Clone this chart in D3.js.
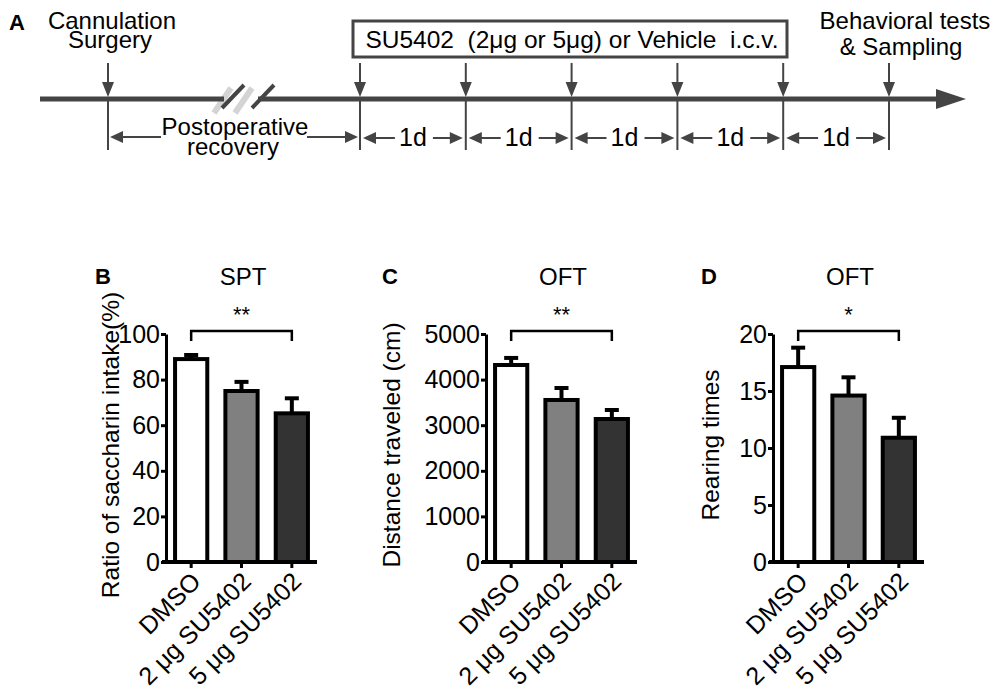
<!DOCTYPE html>
<html>
<head>
<meta charset="utf-8">
<script src="https://cdn.jsdelivr.net/npm/d3@7"></script>
<style>
  body { margin: 0; background: #fff; }
  svg { display: block; font-family: "Liberation Sans", Arial, sans-serif; }
</style>
</head>
<body>
<svg id="fig" width="1000" height="695"></svg>
<script>
// Bar data (mean and SEM)
const groups = ["DMSO", "2 μg SU5402", "5 μg SU5402"];
const barFills = ["#ffffff", "#808080", "#333333"];
const sptMean = [89, 75, 65.2];
const sptSem = [1.8, 4, 6.6];
const distMean = [4320, 3553, 3136];
const distSem = [155, 263, 197];
const rearMean = [17.1, 14.6, 10.9];
const rearSem = [1.7, 1.6, 1.75];

const sptTicks = [0, 20, 40, 60, 80, 100];
const distTicks = [0, 1000, 2000, 3000, 4000, 5000];
const rearTicks = [0, 5, 10, 15, 20];

// Timeline (panel A)
const injectionDays = [0, 1, 2, 3, 4];
const testDay = 5;

const svg = d3.select("#fig");
const ink = "#444";
const fs = 24;

// ---------- Panel A: timeline ----------
const dayX = d3.scaleLinear().domain([0, 5]).range([360, 889]);
const surgeryX = 108;
const lineY = 99;

svg.append("text").attr("x", 9).attr("y", 30)
  .attr("font-size", 22).attr("font-weight", "bold").text("A");

// light "shadow" of the break marks
[[214, 113, 231, 88], [235, 113, 252, 88]].forEach(s => {
  svg.append("line").attr("x1", s[0]).attr("y1", s[1]).attr("x2", s[2]).attr("y2", s[3])
    .attr("stroke", "#d4d4d4").attr("stroke-width", 6);
});

svg.append("line").attr("x1", 40).attr("x2", 224).attr("y1", lineY).attr("y2", lineY)
  .attr("stroke", ink).attr("stroke-width", 5);
svg.append("line").attr("x1", 258).attr("x2", 940).attr("y1", lineY).attr("y2", lineY)
  .attr("stroke", ink).attr("stroke-width", 5);
svg.append("path").attr("d", `M936,${lineY - 10}L966,${lineY}L936,${lineY + 10}Z`).attr("fill", ink);

[[222, 108, 244, 85], [252, 108, 274, 85]].forEach(s => {
  svg.append("line").attr("x1", s[0]).attr("y1", s[1]).attr("x2", s[2]).attr("y2", s[3])
    .attr("stroke", ink).attr("stroke-width", 4);
});

const markX = [surgeryX].concat(injectionDays.map(dayX), [dayX(testDay)]);

markX.forEach(x => {
  // down arrow
  svg.append("line").attr("x1", x).attr("x2", x).attr("y1", 63).attr("y2", 86)
    .attr("stroke", ink).attr("stroke-width", 2);
  svg.append("path").attr("d", `M${x - 6},82L${x + 6},82L${x},97Z`).attr("fill", ink);
  // drop line
  svg.append("line").attr("x1", x).attr("x2", x).attr("y1", lineY).attr("y2", 150)
    .attr("stroke", ink).attr("stroke-width", 2);
});

function hArrow(x1, x2, y) {
  // arrow from x1 to x2, head at x2
  const dir = x2 > x1 ? 1 : -1;
  svg.append("line").attr("x1", x1).attr("x2", x2 - dir * 8).attr("y1", y).attr("y2", y)
    .attr("stroke", ink).attr("stroke-width", 2);
  svg.append("path").attr("d", `M${x2},${y}L${x2 - dir * 13},${y - 6}L${x2 - dir * 13},${y + 6}Z`)
    .attr("fill", ink);
}

// postoperative recovery span
hArrow(161, surgeryX + 2, 137);
hArrow(307, 358, 137);
svg.append("text").attr("x", 235).attr("y", 135).attr("text-anchor", "middle")
  .attr("font-size", fs).text("Postoperative");
svg.append("text").attr("x", 233).attr("y", 155).attr("text-anchor", "middle")
  .attr("font-size", fs).text("recovery");

// 1d spans
d3.range(0, 5).forEach(d => {
  const a = dayX(d), b = dayX(d + 1), c = (a + b) / 2;
  hArrow(c - 18, a + 3, 138);
  hArrow(c + 20, b - 3, 138);
  svg.append("text").attr("x", c).attr("y", 146).attr("text-anchor", "middle")
    .attr("font-size", 25).text("1d");
});

svg.append("text").attr("x", 112).attr("y", 29).attr("text-anchor", "middle")
  .attr("font-size", fs).text("Cannulation");
svg.append("text").attr("x", 110).attr("y", 48).attr("text-anchor", "middle")
  .attr("font-size", fs).text("Surgery");

svg.append("rect").attr("x", 353).attr("y", 21).attr("width", 434).attr("height", 36)
  .attr("fill", "none").attr("stroke", ink).attr("stroke-width", 3);
svg.append("text").attr("x", 572).attr("y", 48).attr("text-anchor", "middle")
  .attr("font-size", 24.5).style("white-space", "pre")
  .text("SU5402  (2μg or 5μg) or Vehicle  i.c.v.");

svg.append("text").attr("x", 905).attr("y", 29).attr("text-anchor", "middle")
  .attr("font-size", fs).text("Behavioral tests");
svg.append("text").attr("x", 901).attr("y", 55).attr("text-anchor", "middle")
  .attr("font-size", fs).text("& Sampling");

// ---------- Panels B, C, D: bar charts ----------
const panels = [
  { letter: "B", title: "SPT", ylabel: "Ratio of saccharin intake(%)", mean: sptMean, sem: sptSem,
    ticks: sptTicks, stars: "**", x0: 166, labelX: 119, letterX: 95 },
  { letter: "C", title: "OFT", ylabel: "Distance traveled (cm)", mean: distMean, sem: distSem,
    ticks: distTicks, stars: "**", x0: 486, labelX: 400, letterX: 382 },
  { letter: "D", title: "OFT", ylabel: "Rearing times", mean: rearMean, sem: rearSem,
    ticks: rearTicks, stars: "*", x0: 773, labelX: 719, letterX: 701 }
];

const y0 = 562, yTop = 334;

panels.forEach(p => {
  const g = svg.append("g");
  const y = d3.scaleLinear().domain([0, d3.max(p.ticks)]).range([y0, yTop]);
  const x = d3.scaleBand().domain(groups).range([p.x0, p.x0 + 151])
    .paddingInner(0.36).paddingOuter(0.18);

  g.append("text").attr("x", p.letterX)
    .attr("y", 284).attr("font-size", 22).attr("font-weight", "bold").text(p.letter);
  g.append("text").attr("x", p.x0 + 77).attr("y", 285).attr("text-anchor", "middle")
    .attr("font-size", 24).text(p.title);

  // y axis
  const ya = g.append("g").attr("transform", `translate(${p.x0},0)`)
    .call(d3.axisLeft(y).tickValues(p.ticks).tickFormat(d3.format("d"))
      .tickSize(5).tickSizeOuter(0).tickPadding(1));
  ya.select(".domain").attr("stroke", "#000").attr("stroke-width", 3);
  ya.selectAll(".tick line").attr("stroke", "#000").attr("stroke-width", 3);
  ya.selectAll(".tick text").attr("font-size", 25).attr("fill", "#000")
    .attr("font-family", "Liberation Sans, Arial, sans-serif");

  g.append("text")
    .attr("transform", `translate(${p.labelX},${445}) rotate(-90)`)
    .attr("text-anchor", "middle").attr("font-size", 24.5).text(p.ylabel);

  // error bars
  groups.forEach((k, i) => {
    const cx = x(k) + x.bandwidth() / 2;
    g.append("line").attr("x1", cx).attr("x2", cx)
      .attr("y1", y(p.mean[i])).attr("y2", y(p.mean[i] + p.sem[i]))
      .attr("stroke", "#000").attr("stroke-width", 4);
    g.append("line").attr("x1", cx - 7).attr("x2", cx + 7)
      .attr("y1", y(p.mean[i] + p.sem[i])).attr("y2", y(p.mean[i] + p.sem[i]))
      .attr("stroke", "#000").attr("stroke-width", 4);
  });

  // bars
  g.selectAll("rect.bar").data(groups).join("rect").attr("class", "bar")
    .attr("x", k => x(k))
    .attr("width", x.bandwidth())
    .attr("y", (k, i) => y(p.mean[i]))
    .attr("height", (k, i) => y0 - y(p.mean[i]))
    .attr("fill", (k, i) => barFills[i])
    .attr("stroke", "#000").attr("stroke-width", 4);

  // x axis
  const xa = g.append("g").attr("transform", `translate(0,${y0})`)
    .call(d3.axisBottom(x).tickSize(6).tickSizeOuter(0));
  xa.select(".domain").attr("stroke", "#000").attr("stroke-width", 4)
    .attr("d", `M${p.x0 - 4},0H${p.x0 + 151}`);
  xa.selectAll(".tick line").attr("stroke", "#000").attr("stroke-width", 3);
  xa.selectAll(".tick text")
    .attr("font-size", 25).attr("fill", "#000")
    .attr("font-family", "Liberation Sans, Arial, sans-serif")
    .attr("text-anchor", "end")
    .attr("dy", null).attr("y", 0)
    .attr("transform", "translate(11,21) rotate(-45)");

  // significance bracket
  const xa1 = x(groups[0]) + x.bandwidth() / 2;
  const xa3 = x(groups[2]) + x.bandwidth() / 2;
  const by = y(d3.max(p.ticks)) - 3;
  g.append("path").attr("d", `M${xa1},${by + 10}V${by}H${xa3}V${by + 10}`)
    .attr("fill", "none").attr("stroke", "#000").attr("stroke-width", 2.5);
  g.append("text").attr("x", (xa1 + xa3) / 2).attr("y", 322).attr("text-anchor", "middle")
    .attr("font-size", 22).text(p.stars);
});
</script>
</body>
</html>
